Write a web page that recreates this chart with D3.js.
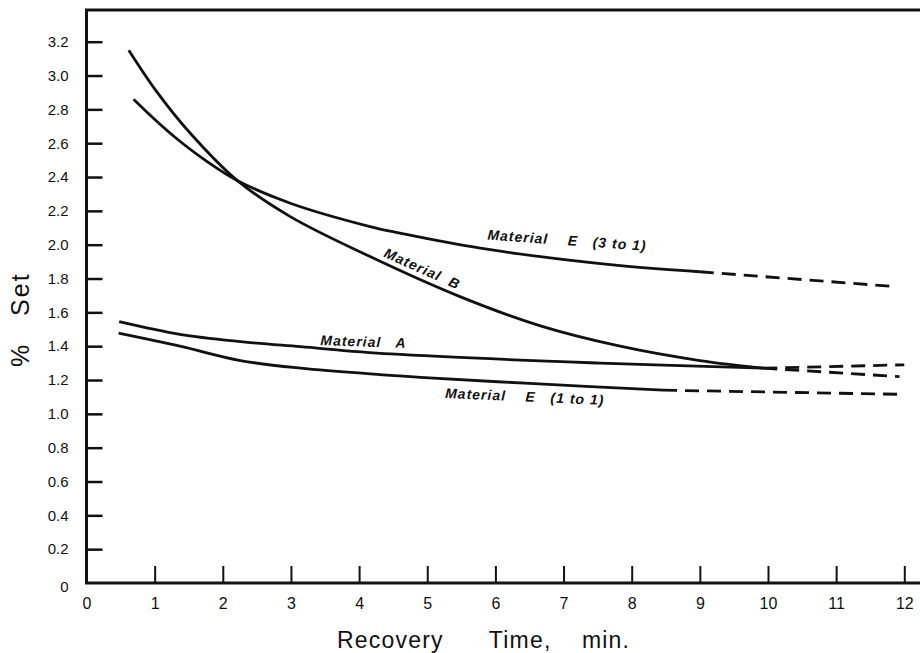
<!DOCTYPE html>
<html>
<head>
<meta charset="utf-8">
<script src="https://cdn.jsdelivr.net/npm/d3@7"></script>
<style>
  body { margin: 0; background: #fff; }
  svg { display: block; }
  text { fill: #111; font-family: "Liberation Sans", Arial, sans-serif; }
</style>
</head>
<body>
<div id="viz"></div>
<script>
const width = 920;
const height = 653;
const margins = { left: 86.5, right: 15.7, top: 41.7, bottom: 70 };

// Recovery time (min) and % set
const timeB = [0.62, 1.03, 1.52, 2.21, 2.99, 4.16, 5.48, 6.66, 7.83, 9.0, 9.93];
const setB = [3.15, 2.905, 2.66, 2.38, 2.166, 1.93, 1.693, 1.52, 1.40, 1.315, 1.27];
const timeBDash = [9.93, 11.93];
const setBDash = [1.27, 1.22];

const timeE31 = [0.69, 1.03, 1.33, 1.74, 2.21, 2.99, 4.16, 4.6, 5.78, 7.83, 9.0];
const setE31 = [2.86, 2.73, 2.625, 2.50, 2.38, 2.245, 2.107, 2.068, 1.979, 1.876, 1.84];
const timeE31Dash = [9.0, 11.87];
const setE31Dash = [1.84, 1.752];

const timeA = [0.48, 1.37, 2.26, 3.14, 4.46, 7.54, 9.93];
const setA = [1.545, 1.47, 1.427, 1.397, 1.354, 1.30, 1.27];
const timeADash = [9.93, 12.0];
const setADash = [1.27, 1.29];

const timeE11 = [0.47, 1.37, 2.26, 3.14, 4.46, 4.9, 6.5, 8.46];
const setE11 = [1.477, 1.40, 1.315, 1.27, 1.228, 1.215, 1.18, 1.14];
const timeE11Dash = [8.46, 12.0];
const setE11Dash = [1.14, 1.115];

const xTicks = [0, 1, 2, 3, 4, 5, 6, 7, 8, 9, 10, 11, 12];
const yTicks = [0, 0.2, 0.4, 0.6, 0.8, 1.0, 1.2, 1.4, 1.6, 1.8, 2.0, 2.2, 2.4, 2.6, 2.8, 3.0, 3.2];

// curve labels: text, anchor (time, set), tilt in degrees
const labelText = ["Material    E   (3 to 1)", "Material  B", "Material   A", "Material    E   (1 to 1)"];
const labelTime = [5.88, 4.35, 3.43, 5.26];
const labelSet = [2.03, 1.93, 1.407, 1.094];
const labelAngle = [4, 24, 2, 2.5];

const zip = (xs, ys) => xs.map((x, i) => ({ x, y: ys[i] }));

const svg = d3.select('#viz')
    .append("svg")
    .attr('width', width)
    .attr('height', height);

const xScale = d3.scaleLinear()
    .domain([0, 12])
    .range([margins.left, width - margins.right]);

const yScale = d3.scaleLinear()
    .domain([0, 3.2])
    .range([height - margins.bottom, margins.top]);

const y0 = yScale(0);

// x axis ticks + labels
const xAxis = svg.append("g")
    .attr("transform", `translate(0, ${y0})`)
    .call(d3.axisBottom(xScale)
        .tickValues(xTicks)
        .tickSize(-17)
        .tickPadding(15)
        .tickFormat(d3.format("d")));
xAxis.select(".domain").remove();
xAxis.selectAll(".tick line")
    .attr("stroke", "#111")
    .attr("stroke-width", 2)
    .filter(d => d === 0).remove();
xAxis.selectAll(".tick text")
    .style("font-size", "16px");

// y axis ticks + labels
const yAxis = svg.append("g")
    .attr("transform", `translate(${margins.left}, 0)`)
    .call(d3.axisLeft(yScale)
        .tickValues(yTicks)
        .tickSize(-16)
        .tickPadding(18)
        .tickFormat(d => d === 0 ? "0" : d.toFixed(1)));
yAxis.select(".domain").remove();
yAxis.selectAll(".tick line")
    .attr("stroke", "#111")
    .attr("stroke-width", 2.5)
    .filter(d => d === 0).remove();
yAxis.selectAll(".tick text")
    .style("font-size", "15px")
    .attr("dy", d => d === 0 ? "0.55em" : "0.32em");

// frame: top, left, bottom (no right border)
svg.append("path")
    .attr("fill", "none")
    .attr("stroke", "#111")
    .attr("stroke-width", 3)
    .attr("d", `M ${width} 10 H ${margins.left} V ${y0} H ${width}`);

// curves
const line = d3.line()
    .x(d => xScale(d.x))
    .y(d => yScale(d.y))
    .curve(d3.curveCatmullRom.alpha(0.5));

const solid = [zip(timeB, setB), zip(timeE31, setE31), zip(timeA, setA), zip(timeE11, setE11)];
const dashed = [zip(timeBDash, setBDash), zip(timeE31Dash, setE31Dash), zip(timeADash, setADash), zip(timeE11Dash, setE11Dash)];

svg.append("g")
    .selectAll("path")
    .data(solid)
    .enter()
    .append("path")
    .attr("fill", "none")
    .attr("stroke", "#111")
    .attr("stroke-width", 2.8)
    .attr("d", line);

svg.append("g")
    .selectAll("path")
    .data(dashed)
    .enter()
    .append("path")
    .attr("fill", "none")
    .attr("stroke", "#111")
    .attr("stroke-width", 2.8)
    .attr("stroke-dasharray", "14,8")
    .attr("d", line);

// curve labels
svg.append("g")
    .selectAll("text")
    .data(labelText)
    .enter()
    .append("text")
    .attr("transform", (d, i) => `translate(${xScale(labelTime[i])}, ${yScale(labelSet[i])}) rotate(${labelAngle[i]})`)
    .style("white-space", "pre")
    .style("font-size", "14px")
    .style("font-style", "italic")
    .style("font-weight", "bold")
    .style("letter-spacing", "1px")
    .text(d => d);

// axis titles
svg.append("text")
    .attr("x", 337)
    .attr("y", 648)
    .style("white-space", "pre")
    .style("font-size", "23px")
    .style("letter-spacing", "1.2px")
    .text("Recovery      Time,    min.");

svg.append("text")
    .attr("transform", "translate(29, 367) rotate(-90)")
    .style("white-space", "pre")
    .style("font-size", "25px")
    .style("letter-spacing", "2px")
    .text("%   Set");
</script>
</body>
</html>
